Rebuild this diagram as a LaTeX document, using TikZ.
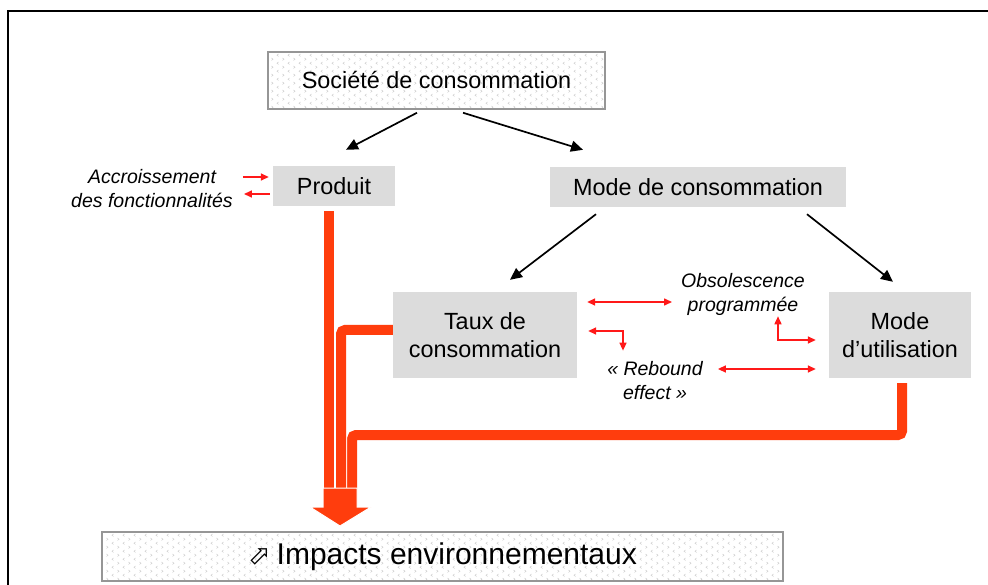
\documentclass[tikz,border=0pt]{standalone}
\usepackage{fontspec}
\setmainfont{Liberation Sans}
\newfontfamily\symbfont{DejaVu Sans}
\usetikzlibrary{arrows.meta,patterns}

\definecolor{boxgray}{RGB}{220,220,220}
\definecolor{pipered}{RGB}{255,61,13}
\definecolor{arrowred}{RGB}{255,25,25}
\definecolor{framegray}{RGB}{150,150,150}

% petits chevrons < > du fond des cadres
\pgfdeclarepatternformonly{chevrons}{\pgfqpoint{-1pt}{-1pt}}{\pgfqpoint{12pt}{9pt}}{\pgfqpoint{11pt}{8pt}}{%
  \pgfsetlinewidth{0.5pt}%
  \pgfpathmoveto{\pgfqpoint{3.5pt}{0.5pt}}\pgfpathlineto{\pgfqpoint{2pt}{1.75pt}}\pgfpathlineto{\pgfqpoint{3.5pt}{3pt}}%
  \pgfpathmoveto{\pgfqpoint{7.5pt}{4.5pt}}\pgfpathlineto{\pgfqpoint{9pt}{5.75pt}}\pgfpathlineto{\pgfqpoint{7.5pt}{7pt}}%
  \pgfusepath{stroke}%
}

\tikzset{
  mainbox/.style={draw=framegray, line width=1.5pt, pattern=chevrons, pattern color=gray!40, inner sep=0pt},
  graybox/.style={fill=boxgray, inner sep=0pt, align=center},
  remark/.style={font=\fontsize{19.5}{24}\selectfont\itshape, align=center, inner sep=0pt},
  blackarrow/.style={line width=1.7pt, -{Triangle[length=12pt,width=11pt]}},
  redarrow/.style={draw=arrowred, line width=1.5pt, -{Triangle[length=8pt,width=7pt]}},
  redarrows/.style={draw=arrowred, line width=1.5pt, {Triangle[length=8pt,width=7pt]}-{Triangle[length=8pt,width=7pt]}},
  pipe/.style={draw=pipered, line width=10pt, rounded corners=4pt, preaction={draw=white, line width=12pt}},
}

\begin{document}
\begin{tikzpicture}[x=1pt,y=-1pt,font=\fontsize{23.4}{28}\selectfont]
\useasboundingbox (0,0) rectangle (988,585);
\draw[line width=1.5pt] (8,585) -- (8,11) -- (988,11);

% cadres
\node[mainbox, minimum width=337pt, minimum height=57pt] (soc) at (436.5,80.5) {Société de consommation};
\node[graybox, minimum width=122pt, minimum height=40pt] (prod) at (334,186) {Produit};
\node[graybox, minimum width=296pt, minimum height=40pt] (modecons) at (698,187) {Mode de consommation};
\node[graybox, minimum width=184pt, minimum height=86pt] (taux) at (485,335) {Taux de\\consommation};
\node[graybox, minimum width=142pt, minimum height=86pt] (util) at (900,335) {Mode\\d’utilisation};
\node[mainbox, minimum width=681pt, minimum height=49pt, font=\fontsize{30}{36}\selectfont] (impacts) at (442.5,556.5)
  {{\symbfont\fontsize{27}{30}\selectfont ⬀}\hspace{6pt}Impacts environnementaux};

% remarques
\node[remark] (accr) at (152,189) {Accroissement\\des fonctionnalités};
\node[remark] (obso) at (743,294) {Obsolescence\\programmée};
\node[remark] (rebound) at (655,381) {« Rebound\\effect »};

% fleches noires
\draw[blackarrow] ([xshift=-19.5pt,yshift=-3pt]soc.south) -- ([xshift=12pt,yshift=16pt]prod.north);
\draw[blackarrow] ([xshift=26.5pt,yshift=-3pt]soc.south) -- ([xshift=-115pt,yshift=17pt]modecons.north);
\draw[blackarrow] ([xshift=-102pt,yshift=-7pt]modecons.south) -- ([xshift=25pt,yshift=12pt]taux.north);
\draw[blackarrow] ([xshift=109pt,yshift=-7pt]modecons.south) -- ([xshift=-7pt,yshift=10pt]util.north);

% fleches rouges
\draw[redarrow] ([xshift=10pt,yshift=12pt]accr.east) -- ([xshift=-4pt,yshift=9pt]prod.west);
\draw[redarrow] ([xshift=-3pt,yshift=-8pt]prod.west) -- ([xshift=11pt,yshift=-5pt]accr.east);
\draw[redarrows] ([xshift=10pt,yshift=33pt]taux.east) -- ([xshift=-9pt,yshift=-8pt]obso.west);
\draw[redarrows] ([xshift=11pt,yshift=4pt]taux.east) -| ([xshift=-32pt,yshift=11pt]rebound.north);
\draw[redarrows] ([xshift=35pt,yshift=-1pt]obso.south) |- ([xshift=-13pt,yshift=-5pt]util.west);
\draw[redarrows] ([xshift=15pt,yshift=12pt]rebound.east) -- ([xshift=-13pt,yshift=-34pt]util.west);

% tuyaux vers les impacts
\coordinate (shaft) at (340,488);
\draw[pipe] ([xshift=2pt,yshift=-5pt]util.south) |- ([xshift=12pt,yshift=53pt]shaft) -- ([xshift=12pt]shaft);
\draw[pipe] ([yshift=5pt]taux.west) -| ([xshift=1pt]shaft);
\draw[pipe] ([xshift=-5pt,yshift=-5pt]prod.south) -- ([xshift=-11pt]shaft);
\fill[pipered, draw=white, line width=1pt] (323,488) -- (357,488) -- (357,507) -- (371,507)
  -- (340,526) -- (310,507) -- (323,507) -- cycle;
\end{tikzpicture}
\end{document}
